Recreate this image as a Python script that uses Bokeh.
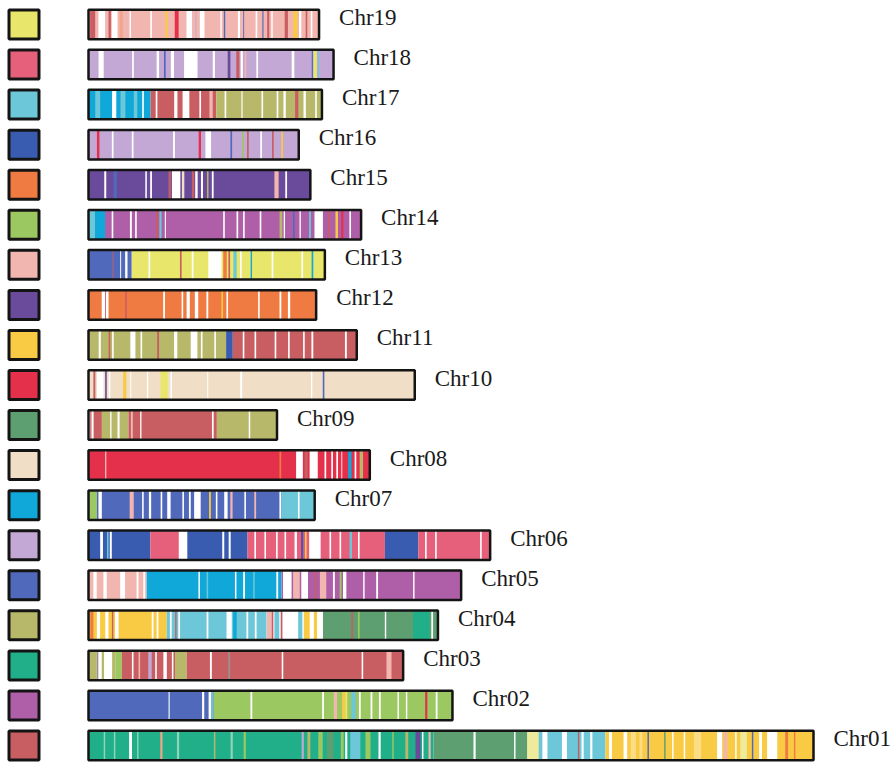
from bokeh.plotting import figure
from bokeh.models import ColumnDataSource, Range1d
from bokeh.embed import file_html
from bokeh.resources import INLINE
from bokeh.core.properties import value

# ---------------- data ----------------
chrom_names = ["Chr01", "Chr02", "Chr03", "Chr04", "Chr05", "Chr06", "Chr07", "Chr08", "Chr09", "Chr10",
               "Chr11", "Chr12", "Chr13", "Chr14", "Chr15", "Chr16", "Chr17", "Chr18", "Chr19"]
chrom_lengths_mb = [50.0, 25.1, 21.7, 24.1, 25.7, 27.7, 15.6, 19.4, 13.0, 22.5,
                    18.5, 15.7, 16.3, 18.8, 15.3, 14.5, 16.1, 16.9, 15.9]

palette = {
    "Y": "#E9E76B", "P": "#E6607C", "C": "#6CC7D8", "B": "#3A5CB0", "O": "#EF7B42",
    "G": "#9CC862", "L": "#F2B6B1", "U": "#6A4B9B", "D": "#F9CB45", "R": "#E5304B",
    "M": "#5E9F72", "E": "#F0DEC6", "Q": "#10A8D8", "V": "#C3A8D6", "W": "#5169BA",
    "K": "#B8B86A", "T": "#20AF88", "A": "#AE5FA8", "X": "#C95E62", "w": "#FFFFFF",
    "S": "#F2A58A", "N": "#9A8E8E", "F": "#EFEB9C", "J": "#8FD6B8", "Z": "#FBDD86",
}

# legend squares, top to bottom (rows Chr19 ... Chr01)
legend_keys = ["Y", "P", "C", "B", "O", "G", "L", "U", "D", "R",
               "M", "E", "Q", "V", "W", "K", "T", "A", "X"]

# segments: (start %, end %, colour key); later entries drawn on top
chr01_segments = [(0, 47.6, "T"), (47.6, 60.5, "M"), (60.5, 71.3, "C"), (71.3, 100, "D"),
                  (2.1, 2.3, "J"), (3.5, 3.7, "J"), (5.6, 6.0, "w"), (6.7, 6.9, "J"), (9.9, 10.2, "S"),
                  (12.2, 12.5, "J"), (17.3, 17.5, "K"), (19.6, 19.9, "J"), (21.4, 21.7, "G"),
                  (29.4, 29.7, "V"), (30.2, 30.6, "K"), (31.7, 32.3, "G"), (32.9, 33.8, "M"),
                  (34.8, 35.2, "G"), (35.4, 35.7, "w"), (36.1, 37.5, "C"), (38.2, 38.9, "G"),
                  (40.0, 40.3, "w"), (41.9, 42.1, "G"), (43.7, 44.1, "K"), (45.1, 45.8, "U"),
                  (46.0, 46.2, "w"), (46.9, 47.2, "L"), (53.1, 53.4, "w"), (58.7, 58.9, "w"),
                  (60.5, 62.1, "F"), (62.6, 63.3, "w"), (65.3, 66.0, "w"), (67.5, 67.7, "X"),
                  (68.0, 68.3, "w"), (69.2, 69.5, "w"),
                  (71.8, 72.2, "w"), (73.8, 74.3, "w"), (74.8, 75.5, "Z"), (76.0, 76.4, "Z"),
                  (77.1, 77.3, "W"), (79.4, 79.6, "M"), (80.5, 80.7, "w"), (82.1, 82.3, "w"),
                  (83.5, 84.5, "Z"), (86.7, 87.4, "w"), (87.6, 88.1, "L"), (89.2, 89.4, "w"),
                  (89.9, 90.8, "F"), (91.5, 91.7, "W"), (92.5, 92.9, "w"), (93.6, 95.0, "w"),
                  (96.1, 96.5, "O"), (97.3, 97.5, "O")]
chr02_segments = [(0, 34.4, "W"), (34.4, 100, "G"), (22.0, 22.3, "w"), (31.2, 31.8, "w"), (33.0, 33.7, "w"),
                  (33.7, 34.2, "C"), (44.5, 45.0, "w"), (64.2, 64.7, "w"), (67.4, 68.3, "L"),
                  (69.7, 70.6, "D"), (70.6, 71.1, "Y"), (72.2, 73.4, "C"), (74.3, 74.8, "w"),
                  (77.5, 78.0, "w"), (79.8, 80.3, "w"), (84.9, 85.3, "w"), (87.2, 87.6, "w"),
                  (92.5, 93.1, "R"), (95.4, 95.9, "w")]
chr03_segments = [(0, 2.6, "K"), (2.6, 3.2, "N"), (3.2, 4.2, "w"), (4.2, 5.0, "K"), (5.0, 7.5, "w"),
                  (7.5, 8.5, "K"), (8.5, 10.6, "G"), (10.6, 27.5, "X"), (27.5, 31.2, "K"), (31.2, 100, "X"),
                  (13.8, 14.3, "w"), (15.9, 16.4, "L"), (19.0, 20.1, "V"), (21.2, 21.7, "w"),
                  (23.8, 24.9, "w"), (26.5, 27.0, "w"), (38.6, 39.2, "w"), (44.4, 45.0, "N"),
                  (61.4, 61.9, "w"), (86.8, 87.3, "w"), (94.7, 96.3, "L")]
chr04_segments = [(0, 22.4, "D"), (22.4, 51.0, "C"), (51.0, 67.1, "w"), (67.1, 100, "M"),
                  (0.5, 1.4, "O"), (2.4, 3.3, "w"), (4.8, 5.7, "w"), (6.7, 7.1, "X"), (7.6, 8.6, "w"),
                  (18.1, 18.6, "w"), (19.5, 20.0, "w"), (23.3, 23.8, "w"), (24.8, 25.2, "X"),
                  (25.7, 26.2, "w"), (33.8, 34.3, "w"), (39.5, 41.0, "w"), (41.4, 42.4, "Q"),
                  (45.2, 45.7, "w"), (47.6, 48.1, "w"), (51.0, 52.4, "L"), (52.4, 52.9, "X"),
                  (53.2, 54.6, "C"), (55.0, 55.5, "X"), (60.0, 61.2, "C"), (61.6, 63.3, "D"),
                  (64.5, 65.4, "D"), (75.2, 75.7, "X"), (77.1, 77.6, "G"), (84.8, 85.2, "w"),
                  (92.9, 97.6, "T"), (98.1, 98.6, "w")]
chr05_segments = [(0, 15.6, "L"), (15.6, 51.8, "Q"), (51.8, 100, "A"),
                  (1.3, 2.2, "w"), (4.0, 4.9, "w"), (8.5, 9.8, "w"), (12.9, 13.4, "w"), (14.7, 15.2, "w"),
                  (29.5, 29.9, "w"), (31.7, 32.1, "C"), (39.3, 39.7, "w"), (41.5, 42.0, "w"),
                  (44.2, 44.6, "C"), (50.4, 50.9, "w"), (52.2, 54.5, "w"), (54.9, 56.7, "L"),
                  (57.1, 58.9, "w"), (60.7, 61.2, "X"), (62.1, 63.8, "L"), (65.6, 66.1, "w"),
                  (67.4, 67.9, "G"), (68.3, 69.2, "w"), (73.7, 74.1, "w"), (77.2, 77.7, "w"),
                  (87.1, 87.5, "w")]
chr06_segments = [(0, 15.4, "B"), (15.4, 22.5, "P"), (22.5, 24.6, "w"), (24.6, 39.6, "B"),
                  (39.6, 52.9, "P"), (52.9, 53.6, "U"), (53.6, 55.0, "P"), (55.0, 57.8, "w"),
                  (57.8, 73.8, "P"), (73.8, 82.1, "B"), (82.1, 100, "P"),
                  (2.9, 3.6, "w"), (4.6, 5.0, "C"), (5.3, 5.8, "w"), (33.3, 33.8, "w"), (34.9, 35.4, "w"),
                  (41.3, 41.7, "w"), (43.8, 44.2, "w"), (46.7, 47.1, "w"), (48.8, 49.2, "w"),
                  (51.3, 51.9, "w"), (53.9, 54.3, "D"), (60.0, 60.4, "w"), (62.5, 62.9, "w"),
                  (65.0, 65.6, "C"), (67.1, 67.5, "w"), (83.8, 84.2, "w"), (86.3, 86.7, "w"),
                  (97.5, 97.9, "w")]
chr07_segments = [(0, 3.7, "G"), (3.7, 86.7, "W"), (86.7, 100, "C"), (4.4, 5.9, "w"), (18.2, 20.0, "L"),
                  (23.7, 24.4, "w"), (26.7, 27.7, "w"), (31.9, 32.6, "w"), (34.8, 36.3, "w"),
                  (41.5, 42.2, "w"), (44.4, 45.2, "w"), (46.7, 49.6, "w"), (53.3, 54.1, "D"),
                  (56.3, 57.0, "w"), (60.0, 61.5, "w"), (62.7, 63.7, "L"), (68.9, 69.6, "w"),
                  (73.3, 74.1, "L"), (84.4, 85.2, "w"), (85.2, 86.7, "C"), (92.6, 93.3, "w")]
chr08_segments = [(0, 100, "R"), (6.0, 6.3, "w"), (67.9, 68.5, "O"), (73.8, 76.2, "w"), (76.8, 78.0, "X"),
                  (78.6, 81.5, "w"), (83.9, 84.5, "w"), (86.3, 86.9, "w"), (88.1, 88.7, "w"),
                  (89.9, 90.2, "w"), (92.3, 93.5, "Q"), (94.6, 95.2, "w"), (96.4, 97.6, "K")]
chr09_segments = [(0, 2.7, "w"), (2.7, 7.1, "X"), (7.1, 21.2, "K"), (21.2, 68.1, "X"), (68.1, 100, "K"),
                  (0.9, 1.6, "X"), (11.5, 12.2, "w"), (15.4, 16.5, "w"), (22.5, 23.5, "L"),
                  (27.4, 28.1, "w"), (65.5, 66.4, "w"), (85.0, 85.8, "w")]
chr10_segments = [(0, 100, "E"), (1.5, 2.1, "X"), (2.6, 4.6, "w"), (5.1, 5.6, "U"), (6.2, 6.7, "w"),
                  (10.6, 11.6, "D"), (12.8, 13.1, "w"), (17.9, 18.3, "w"), (22.1, 24.3, "Y"),
                  (25.1, 25.6, "w"), (36.4, 36.7, "w"), (46.5, 47.1, "w"), (68.2, 68.6, "w"),
                  (71.8, 72.3, "W")]
chr11_segments = [(0, 51.3, "K"), (51.3, 53.8, "B"), (53.8, 100, "X"), (3.8, 4.6, "w"), (7.5, 8.1, "X"),
                  (8.8, 9.4, "w"), (15.6, 17.5, "w"), (19.4, 20.0, "w"), (25.6, 26.3, "X"),
                  (31.9, 33.1, "w"), (38.1, 40.6, "w"), (41.9, 42.5, "w"), (46.9, 47.5, "w"),
                  (57.5, 58.1, "w"), (61.9, 62.5, "w"), (69.4, 70.0, "w"), (74.4, 75.0, "w"),
                  (80.0, 80.6, "w"), (83.1, 83.8, "w"), (95.6, 96.3, "w")]
chr12_segments = [(0, 100, "O"), (5.8, 8.8, "w"), (7.3, 7.7, "X"), (16.1, 16.8, "X"), (32.8, 33.6, "w"),
                  (40.9, 41.6, "w"), (43.1, 44.5, "w"), (46.7, 48.2, "w"), (51.8, 52.6, "w"),
                  (58.4, 59.1, "D"), (60.6, 61.3, "w"), (74.5, 75.2, "w"), (83.9, 84.7, "w"),
                  (87.6, 88.6, "w")]
chr13_segments = [(0, 18.3, "W"), (18.3, 100, "Y"), (10.2, 10.6, "X"), (13.4, 13.8, "w"), (15.5, 16.5, "w"),
                  (25.4, 26.1, "w"), (38.7, 39.4, "X"), (43.7, 44.4, "w"), (50.7, 56.3, "w"),
                  (57.0, 58.5, "O"), (59.2, 59.9, "X"), (61.3, 62.7, "C"), (64.1, 64.8, "w"),
                  (68.6, 69.2, "Q"), (77.5, 78.2, "w"), (90.1, 90.8, "w"), (94.4, 95.1, "Q")]
chr14_segments = [(0, 100, "A"), (0, 2.4, "C"), (2.4, 6.1, "Q"), (8.5, 9.1, "w"), (15.2, 15.9, "w"),
                  (17.1, 17.7, "w"), (24.8, 25.6, "X"), (26.0, 26.8, "C"), (28.0, 28.4, "w"),
                  (49.4, 50.0, "w"), (54.3, 54.9, "w"), (56.7, 57.3, "w"), (62.8, 63.4, "w"),
                  (70.1, 71.1, "K"), (71.6, 72.1, "w"), (75.0, 75.6, "W"), (77.4, 77.9, "w"),
                  (80.9, 81.6, "C"), (82.9, 86.0, "w"), (87.8, 88.4, "X"), (90.6, 91.5, "D"),
                  (92.7, 93.5, "R"), (95.7, 96.3, "w")]
chr15_segments = [(0, 100, "U"), (7.1, 8.0, "w"), (11.3, 12.8, "W"), (25.6, 26.3, "w"), (27.8, 28.6, "w"),
                  (36.1, 37.1, "X"), (37.6, 41.4, "w"), (42.1, 43.2, "E"), (46.6, 47.7, "X"),
                  (48.1, 49.2, "w"), (50.7, 51.6, "w"), (53.4, 54.1, "K"), (55.6, 56.4, "w"),
                  (83.8, 85.7, "L"), (88.7, 89.5, "w")]
chr16_segments = [(0, 100, "V"), (4.0, 5.2, "R"), (11.1, 11.9, "w"), (20.6, 21.4, "w"), (40.2, 41.1, "w"),
                  (52.4, 53.5, "R"), (55.6, 58.3, "w"), (67.5, 68.3, "W"), (73.0, 73.8, "G"),
                  (75.4, 76.2, "X"), (81.7, 82.5, "w"), (87.3, 88.1, "X"), (91.7, 92.5, "D")]
chr17_segments = [(0, 26.6, "Q"), (26.6, 54.7, "X"), (54.7, 100, "K"), (2.9, 5.0, "C"), (10.1, 11.9, "w"),
                  (13.7, 15.8, "C"), (19.4, 20.9, "C"), (23.0, 23.7, "w"), (28.8, 29.5, "w"),
                  (36.7, 38.1, "w"), (40.3, 43.2, "w"), (47.5, 48.2, "w"), (51.8, 53.2, "L"),
                  (58.3, 59.0, "w"), (65.5, 66.0, "w"), (74.1, 74.8, "w"), (80.6, 81.3, "w"),
                  (83.5, 84.5, "w"), (88.5, 89.9, "X"), (92.1, 93.1, "w"), (97.1, 97.8, "w")]
chr18_segments = [(0, 100, "V"), (4.1, 6.2, "w"), (17.8, 18.5, "w"), (27.8, 28.8, "w"), (30.8, 31.5, "W"),
                  (33.6, 34.9, "w"), (39.0, 44.5, "w"), (50.7, 51.6, "w"), (56.8, 57.9, "U"),
                  (60.3, 61.6, "X"), (62.1, 63.0, "w"), (63.7, 64.4, "L"), (68.5, 69.2, "w"),
                  (82.9, 84.0, "w"), (91.1, 91.6, "W"), (91.8, 93.2, "Y"), (93.6, 94.1, "C")]
chr19_segments = [(0, 100, "L"), (0.7, 2.9, "X"), (4.3, 7.2, "w"), (8.7, 9.7, "X"), (10.1, 12.6, "w"),
                  (13.5, 14.9, "S"), (17.8, 18.4, "w"), (26.8, 27.5, "w"), (33.3, 34.3, "D"),
                  (37.4, 39.1, "R"), (42.5, 44.9, "w"), (46.4, 46.8, "V"), (48.3, 50.3, "w"),
                  (57.2, 57.8, "w"), (58.7, 59.3, "W"), (64.8, 65.7, "w"), (67.1, 67.5, "W"),
                  (72.5, 73.2, "w"), (75.4, 75.9, "W"), (77.5, 78.4, "X"), (79.3, 79.9, "w"),
                  (85.1, 86.5, "X"), (88.8, 90.6, "D"), (91.3, 92.3, "w"), (94.2, 94.9, "X"),
                  (96.4, 97.1, "w")]

all_segments = [chr01_segments, chr02_segments, chr03_segments, chr04_segments, chr05_segments,
                chr06_segments, chr07_segments, chr08_segments, chr09_segments, chr10_segments,
                chr11_segments, chr12_segments, chr13_segments, chr14_segments, chr15_segments,
                chr16_segments, chr17_segments, chr18_segments, chr19_segments]

# ---------------- layout ----------------
W, H = 896, 763
PX_PER_MB = 14.5
BAR_START_PX = 88          # screen x of 0 Mb inside the figure
ROW_TOP_PX = 24.0          # screen y of top row centre
ROW_BOTTOM_PX = 745.0      # screen y of bottom row centre
n = len(chrom_names)
row_px = (ROW_BOTTOM_PX - ROW_TOP_PX) / (n - 1)
x0 = -BAR_START_PX / PX_PER_MB
x1 = (W - BAR_START_PX) / PX_PER_MB
y0 = -(H - ROW_BOTTOM_PX) / row_px
y1 = (n - 1) + ROW_TOP_PX / row_px
half_h = (29.5 / row_px) / 2

p = figure(width=W, height=H, x_range=Range1d(x0, x1), y_range=Range1d(y0, y1),
           output_backend="svg", toolbar_location=None, min_border=0,
           x_axis_location=None, y_axis_location=None)
p.grid.visible = False
p.outline_line_color = None
p.background_fill_color = "white"

seg = dict(left=[], right=[], top=[], bottom=[], color=[])
for i, (L, segs) in enumerate(zip(chrom_lengths_mb, all_segments)):
    for s, e, k in segs:
        seg["left"].append(s / 100 * L)
        seg["right"].append(e / 100 * L)
        seg["bottom"].append(i - half_h)
        seg["top"].append(i + half_h)
        seg["color"].append(palette[k])
p.quad(left="left", right="right", top="top", bottom="bottom", fill_color="color",
       line_color=None, source=ColumnDataSource(seg))

rows = list(range(n))
p.quad(left=[0] * n, right=chrom_lengths_mb, bottom=[r - half_h for r in rows],
       top=[r + half_h for r in rows], fill_color=None, line_color="#141414", line_width=2.5)

legend_x = x0 + 23.5 / PX_PER_MB
legend_rows = list(range(n - 1, -1, -1))
p.rect(x=[legend_x] * n, y=legend_rows, width=30, height=29, width_units="screen",
       height_units="screen", fill_color=[palette[k] for k in legend_keys],
       line_color="#141414", line_width=3)

p.text(x=chrom_lengths_mb, y=rows, text=chrom_names, x_offset=20, y_offset=-7,
       text_font=value("Liberation Serif"), text_font_size="23px", text_baseline="middle",
       text_align="left", text_color="#1a1a1a")

open("out.html", "w").write(file_html(p, INLINE))
